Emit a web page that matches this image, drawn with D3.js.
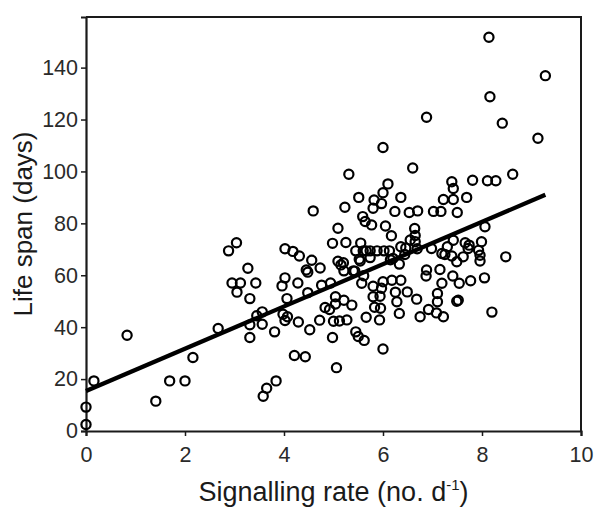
<!DOCTYPE html>
<html>
<head>
<meta charset="utf-8">
<script src="https://cdn.jsdelivr.net/npm/d3@7"></script>
<style>
  html, body { margin: 0; padding: 0; background: #fff; }
  svg { display: block; }
</style>
</head>
<body>
<svg id="chart" width="602" height="513"></svg>
<script>
// Signalling rate (no. per day) for each individual
const rateValues = [
  0, 0, 0.16, 0.83, 1.41, 1.69, 2.0, 2.16, 2.67, 2.88, 3.04, 2.95, 3.12, 3.05,
  3.27, 3.31, 3.43, 3.31, 3.31, 3.45, 3.56, 3.56, 3.58, 3.65, 3.84, 3.81, 3.96, 4.02,
  4.02, 4.18, 4.31, 4.06, 3.98, 4.07, 4.02, 4.28, 4.29, 4.21, 4.43, 4.52, 4.48, 4.59,
  4.56, 4.48, 4.73, 4.76, 4.72, 4.94, 4.83, 4.92, 4.98,
  5.09, 5.09, 5.0, 4.98, 5.06, 5.04, 5.12, 5.27, 5.25, 5.23, 5.31, 5.2, 5.21, 5.21,
  5.37, 5.04, 5.51, 5.55, 5.59, 5.64, 5.77, 5.45, 5.52, 5.43, 5.61, 5.57, 5.66, 5.45,
  5.5, 5.62, 5.82, 5.80, 5.97, 5.66, 5.74, 5.80, 5.80, 5.88, 5.54, 5.4,
  6.0, 6.1, 6.0, 6.05, 6.0, 5.93, 5.95, 5.83, 5.94, 5.97, 6.0, 6.02, 6.17, 6.13,
  6.24, 6.36, 6.18, 6.25, 6.36, 6.28, 6.33, 6.33, 6.36, 6.44, 6.49, 6.53, 6.6, 6.64,
  6.65, 6.65, 6.69, 6.55, 6.70, 6.68, 6.75, 6.88, 6.88, 6.87, 6.92,
  7.02, 6.98, 7.17, 7.10, 7.10, 7.08, 7.22, 7.19, 7.15, 7.19, 7.22, 7.25, 7.39, 7.42,
  7.42, 7.50, 7.42, 7.39, 7.49, 7.41, 7.54, 7.49, 7.52, 7.69, 7.66, 7.74, 7.72, 7.62,
  7.77, 7.81, 7.99, 7.93, 7.96, 7.96,
  8.05, 8.06, 8.11, 8.14, 8.16, 8.2, 8.28, 8.41, 8.48, 8.62, 9.13, 9.28,
  6.2, 5.6, 5.74, 6.46, 4.45, 5.15, 6.15, 7.3
];
// Life span (days) for each individual, same order
const lifeSpanValues = [
  2.5, 9.2, 19.3, 36.9, 11.5, 19.3, 19.3, 28.3, 39.5, 69.4, 72.5, 57.0, 57.0, 53.5,
  62.7, 51.0, 57.0, 40.9, 36.0, 44.4, 45.9, 41.1, 13.4, 16.5, 19.3, 38.2, 55.9, 59.0,
  70.2, 69.2, 67.4, 51.0, 45.0, 44.0, 42.6, 57.0, 42.0, 29.1, 28.6, 39.0, 53.3, 84.8,
  65.8, 61.2, 62.8, 56.2, 42.7, 57.0, 47.6, 46.8, 72.3,
  78.1, 65.4, 42.3, 36.0, 24.4, 51.7, 42.4, 42.8, 72.6, 86.2, 98.9, 64.8, 61.7, 50.4,
  48.5, 48.9, 90.0, 72.4, 82.6, 80.7, 79.4, 69.4, 66.2, 61.6, 59.8, 56.9, 43.8, 38.2,
  36.4, 34.9, 89.0, 85.8, 87.6, 69.4, 66.8, 55.8, 51.7, 69.4, 65.5, 61.7,
  91.8, 95.2, 109.2, 79.0, 31.6, 42.8, 47.3, 47.7, 51.9, 55.0, 57.5, 69.4, 75.2, 69.4,
  84.6, 90.0, 58.1, 53.5, 58.1, 49.8, 45.3, 64.3, 71.0, 68.0, 53.6, 84.2, 101.3, 78.0,
  75.3, 72.9, 70.2, 73.6, 84.8, 50.8, 44.0, 120.9, 62.0, 59.7, 46.8,
  84.6, 70.3, 84.6, 53.0, 49.8, 45.5, 44.0, 68.4, 62.2, 56.9, 89.2, 68.0, 96.0, 93.4,
  89.2, 84.2, 73.5, 67.4, 65.2, 59.7, 56.9, 50.0, 50.4, 90.0, 72.5, 71.6, 70.3, 67.1,
  57.9, 96.6, 72.9, 69.6, 67.7, 65.5,
  59.0, 78.7, 96.4, 151.7, 128.8, 45.8, 96.4, 118.6, 67.1, 98.9, 112.8, 136.9,
  66.5, 69.4, 69.4, 70.5, 62.0, 64.0, 66.0, 71.0
];
// Fitted regression line end points
const fitRate = [0, 9.28];
const fitLifeSpan = [15.4, 91.0];

const xTicks = [0, 2, 4, 6, 8, 10];
const yTicks = [0, 20, 40, 60, 80, 100, 120, 140];
const xTitle = "Signalling rate (no. d";
const xTitleSup = "-1";
const yTitle = "Life span (days)";

const svg = d3.select("#chart");
const W = 602, H = 513;
const margin = { left: 86, right: 21, top: 17, bottom: 82 };
const x = d3.scaleLinear().domain([0, 10]).range([margin.left, W - margin.right]);
const y = d3.scaleLinear().domain([0, 159.5]).range([H - margin.bottom, margin.top]);

const font = "'Liberation Sans', Arial, Helvetica, sans-serif";
const ink = "#1a1a1a";

// frame (top and right)
svg.append("path")
  .attr("d", `M${x(0)},${y(159.5)}H${x(10)}V${y(0)}`)
  .attr("fill", "none").attr("stroke", ink).attr("stroke-width", 2);

// axes
const xAxis = d3.axisBottom(x).tickValues(xTicks).tickSize(5).tickPadding(11).tickFormat(d3.format("d"));
const yAxis = d3.axisLeft(y).tickValues(yTicks).tickSize(5).tickPadding(3).tickFormat(d3.format("d"));

const gx = svg.append("g").attr("transform", `translate(0,${y(0)})`).call(xAxis);
const gy = svg.append("g").attr("transform", `translate(${x(0)},0)`).call(yAxis);
[gx, gy].forEach(g => {
  g.select(".domain").attr("stroke", ink).attr("stroke-width", 2.2);
  g.selectAll(".tick line").attr("stroke", ink).attr("stroke-width", 1.5);
  g.selectAll(".tick text").attr("fill", "#2a2a2a").style("font-family", font).style("font-size", "21.5px");
});

// points
const pts = rateValues.map((r, i) => ({ r, s: lifeSpanValues[i] }));
svg.append("g").selectAll("circle").data(pts).join("circle")
  .attr("cx", d => x(d.r)).attr("cy", d => y(d.s)).attr("r", 4.6)
  .attr("fill", "none").attr("stroke", "#000").attr("stroke-width", 2.2);

// regression line
const line = d3.line().x(d => x(d[0])).y(d => y(d[1]));
svg.append("path")
  .datum(fitRate.map((r, i) => [r, fitLifeSpan[i]]))
  .attr("d", line).attr("fill", "none").attr("stroke", "#000").attr("stroke-width", 4.3);

// axis titles
const xt = svg.append("text")
  .attr("x", (x(0) + x(10)) / 2).attr("y", 501)
  .attr("text-anchor", "middle").attr("fill", "#1a1a1a")
  .style("font-family", font).style("font-size", "27px");
xt.append("tspan").text(xTitle);
xt.append("tspan").attr("dy", -11).style("font-size", "15px").text(xTitleSup);
xt.append("tspan").attr("dy", 11).text(")");

svg.append("text")
  .attr("transform", `translate(32,${(y(0) + y(159.5)) / 2}) rotate(-90)`)
  .attr("text-anchor", "middle").attr("fill", "#1a1a1a")
  .style("font-family", font).style("font-size", "26px")
  .text(yTitle);
</script>
</body>
</html>
